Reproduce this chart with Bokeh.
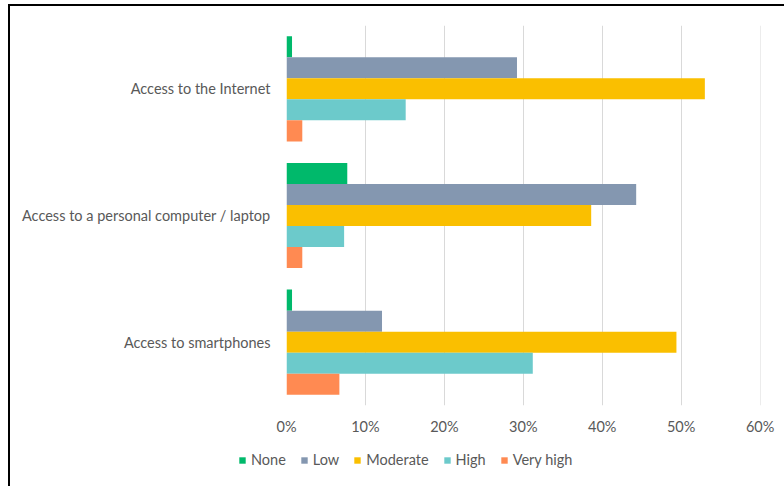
from bokeh.plotting import figure
from bokeh.layouts import column, row
from bokeh.models import (FactorRange, Range1d, Legend, LegendItem, ColumnDataSource,
                          NumeralTickFormatter, FixedTicker)
from bokeh.transform import dodge
from bokeh.embed import file_html
from bokeh.resources import INLINE

# Data (top-to-bottom order as displayed)
categories = ["Access to the Internet",
              "Access to a personal computer / laptop",
              "Access to smartphones"]
series_names = ["None", "Low", "Moderate", "High", "Very high"]
none_vals = [0.007, 0.077, 0.007]
low_vals = [0.292, 0.443, 0.121]
moderate_vals = [0.530, 0.386, 0.494]
high_vals = [0.151, 0.073, 0.312]
very_high_vals = [0.020, 0.020, 0.067]
tick_values = [0, 0.1, 0.2, 0.3, 0.4, 0.5, 0.6]
colors = ["#00B96B", "#8497B0", "#FABF00", "#6CCACB", "#FF8A52"]

FONT = "Lato"
TXT = "#595959"
FS = "14.5px"

src = ColumnDataSource(dict(cat=categories,
                            none=none_vals, low=low_vals, moderate=moderate_vals,
                            high=high_vals, very_high=very_high_vals))
keys = ["none", "low", "moderate", "high", "very_high"]

p = figure(width=784, height=440,
           y_range=FactorRange(*list(reversed(categories))),
           x_range=Range1d(0, 0.6005),
           output_backend="svg", toolbar_location=None,
           min_border_left=286, min_border_right=24,
           min_border_top=25, min_border_bottom=35)
p.outline_line_color = None
p.border_fill_alpha = 0
p.background_fill_color = "white"
p.styles = {"background-color": "white",
            "box-shadow": "inset 8px 4px 0 0 white, inset 10px 6px 0 0 black"}

bar_h = 0.166
offsets = [2 * bar_h, bar_h, 0, -bar_h, -2 * bar_h]
renderers = []
for k, off, c in zip(keys, offsets, colors):
    r = p.hbar(y=dodge("cat", off, range=p.y_range), left=0, right=k, height=bar_h,
               source=src, fill_color=c, line_color=None)
    renderers.append(r)

# Axes
p.xaxis.ticker = FixedTicker(ticks=tick_values)
p.xaxis.formatter = NumeralTickFormatter(format="0%")
p.xaxis.axis_line_color = None
p.xaxis.major_tick_line_color = None
p.xaxis.minor_tick_line_color = None
p.xaxis.major_label_text_font = FONT
p.xaxis.major_label_text_font_size = FS
p.xaxis.major_label_text_color = TXT
p.xaxis.major_label_standoff = 6

p.yaxis.axis_line_color = None
p.yaxis.major_tick_line_color = None
p.yaxis.minor_tick_line_color = None
p.yaxis.major_label_text_font = FONT
p.yaxis.major_label_text_font_size = FS
p.yaxis.major_label_text_color = TXT
p.yaxis.major_label_standoff = 10

p.ygrid.grid_line_color = None
p.xgrid.grid_line_color = "#D9D9D9"
p.xgrid.grid_line_width = 1

# Legend strip (separate small figure; swatch quads sit outside its visible range)
pl = figure(width=784, height=46, x_range=Range1d(0, 1), y_range=Range1d(0, 1),
            output_backend="svg", toolbar_location=None,
            x_axis_location=None, y_axis_location=None,
            min_border_left=0, min_border_right=0, min_border_top=0, min_border_bottom=0)
pl.outline_line_color = None
pl.grid.grid_line_color = None
pl.border_fill_alpha = 0
pl.background_fill_alpha = 0
pl.styles = {"background-color": "white",
             "box-shadow": "inset 8px 0 0 0 white, inset 10px 0 0 0 black"}
swatches = [pl.quad(left=[-5], right=[-4], bottom=[-5], top=[-4],
                    fill_color=c, line_color=None)
            for c in colors]
legend = Legend(items=[LegendItem(label=n, renderers=[r]) for n, r in zip(series_names, swatches)],
                orientation="horizontal", location=(238, 18),
                glyph_width=8, glyph_height=8, label_standoff=5, spacing=14,
                padding=0, margin=0, label_height=14,
                label_text_font=FONT, label_text_font_size=FS, label_text_color=TXT,
                border_line_color=None, background_fill_alpha=0)
pl.add_layout(legend, "center")

layout = column(p, row(pl), spacing=0)
open("out.html", "w").write(file_html(layout, INLINE))
